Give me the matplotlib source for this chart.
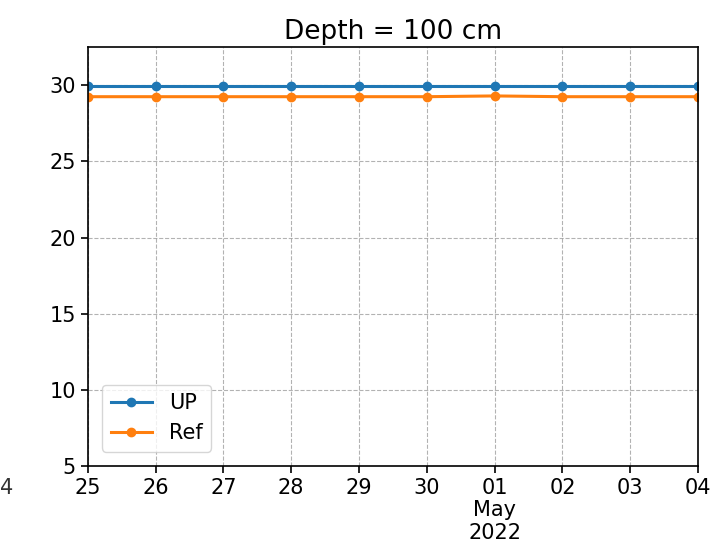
import numpy as np
import pandas as pd
import matplotlib.pyplot as plt
import matplotlib.dates as mdates

# ------------------------------------------------------------
# Data
# ------------------------------------------------------------

dates = pd.date_range("2022-04-25", "2022-05-04", freq="D")
up_values = [29.95, 29.95, 29.95, 29.95, 29.95, 29.95, 29.95, 29.95, 29.95, 29.95]
ref_values = [29.25, 29.25, 29.25, 29.25, 29.25, 29.25, 29.3, 29.25, 29.25, 29.25]

tick_labels = ["25", "26", "27", "28", "29", "30", "01\nMay\n2022", "02", "03", "04"]

# ------------------------------------------------------------
# Plot
# ------------------------------------------------------------

fig = plt.figure(figsize=(7.13, 5.55), dpi=100)
ax = fig.add_axes([0.123, 0.16, 0.856, 0.755])

ax.plot(dates, up_values, marker="o", markersize=6, linewidth=2.2, color="#1f77b4", label="UP")
ax.plot(dates, ref_values, marker="o", markersize=6, linewidth=2.2, color="#ff7f0e", label="Ref")

ax.set_xlim(dates[0], dates[-1])
ax.set_ylim(5, 32.5)
ax.set_xticks(dates)
ax.set_xticklabels(tick_labels, fontsize=15, linespacing=1.15)
ax.set_yticks([5, 10, 15, 20, 25, 30])
ax.tick_params(axis="y", labelsize=15)
ax.tick_params(length=5, width=1.2)
ax.grid(True, linestyle="--", color="gray", alpha=0.6)
for spine in ax.spines.values():
    spine.set_linewidth(1.2)

ax.set_title("Depth = 100 cm", fontsize=19)
ax.legend(loc="lower left", fontsize=15, borderaxespad=0.7)

# cut-off tick label from the neighbouring panel
fig.text(0.0, 0.12, "4", fontsize=15, ha="left", va="center", color="#333333")

fig.savefig("out.png", dpi=100)
